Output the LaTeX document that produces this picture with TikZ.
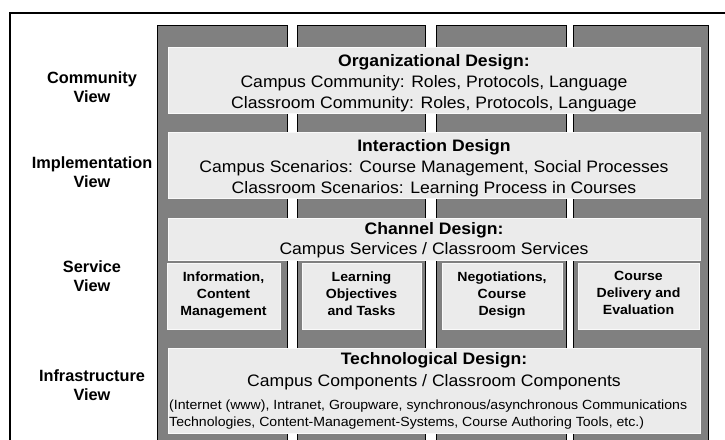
\documentclass[tikz,border=0pt]{standalone}
\usepackage{fontspec}
\setmainfont{Liberation Sans}
\newfontfamily\panelfont[FakeStretch=1.06]{Liberation Sans}
\usetikzlibrary{positioning}

\begin{document}
\begin{tikzpicture}[x=1pt, y=-1pt,
    pillar/.style={draw=black, line width=0.9pt, fill=gray,
                   anchor=north west, inner sep=0pt, minimum height=430pt},
    layer/.style={draw=gray!5, line width=1pt, fill=gray!16,
                  anchor=north west, inner sep=0pt, minimum width=532pt},
    cell/.style={draw=gray!5, line width=1pt, fill=gray!16,
                 anchor=north west, inner sep=0pt, minimum height=66pt},
    head/.style={anchor=north, align=center, inner sep=0pt,
                 font=\panelfont\fontsize{16.6}{21}\selectfont},
    celltxt/.style={anchor=north, align=center, inner sep=0pt,
                    font=\panelfont\bfseries\fontsize{13.3}{17}\selectfont},
    view/.style={align=center, inner sep=0pt,
                 font=\bfseries\fontsize{16.3}{19}\selectfont},
  ]
    \useasboundingbox (0,0) rectangle (725,439);
    \draw[line width=1.3pt] (10,450) -- (10,13) -- (740,13);

    % four pillars behind the layers
    \foreach \xa/\pw [count=\i] in {157/130, 297/128, 436/130, 573/135}
      \node[pillar, minimum width=\pw pt] (P\i) at (\xa,25) {};

    % layers
    \node[layer, minimum height=66pt] (org)   at (168,47)  {};
    \node[layer, minimum height=66pt] (inter) at (168,132) {};
    \node[layer, minimum height=42pt] (chan)  at (168,218) {};
    \node[layer, minimum height=85pt] (tech)  at (168,348) {};

    \node[cell, minimum width=113pt] (S1) at (167,263) {};
    \node[cell, minimum width=119pt] (S2) at (302,263) {};
    \node[cell, minimum width=120pt] (S3) at (442,263) {};
    \node[cell, minimum width=121pt] (S4) at (578,263) {};

    \node[head] (orgtxt) at (434,54.5)
      {\textbf{Organizational Design:}\\
       Campus Community: Roles, Protocols, Language\\
       Classroom Community: Roles, Protocols, Language};
    \node[head] (intertxt) at (434,139.5)
      {\textbf{Interaction Design}\\
       Campus Scenarios: Course Management, Social Processes\\
       Classroom Scenarios: Learning Process in Courses};
    \node[head, font=\panelfont\fontsize{16.6}{20}\selectfont] (chantxt) at (434,222.5)
      {\textbf{Channel Design:}\\
       Campus Services / Classroom Services};
    \node[head, font=\panelfont\fontsize{16.6}{22}\selectfont] (techtxt) at (434,352.5)
      {\textbf{Technological Design:}\\
       Campus Components / Classroom Components};
    \node[anchor=north west, align=left, inner sep=0pt,
          font=\panelfont\fontsize{13.3}{17}\selectfont] (technote) at (169,399.5)
      {(Internet (www), Intranet, Groupware, synchronous/asynchronous Communications\\
       Technologies, Content-Management-Systems, Course Authoring Tools, etc.)};

    \node[celltxt] (S1txt) at (223.5,271.5) {Information,\\Content\\Management};
    \node[celltxt] (S2txt) at (361.5,271.5) {Learning\\Objectives\\and Tasks};
    \node[celltxt] (S3txt) at (502,271.5)   {Negotiations,\\Course\\Design};
    \node[celltxt] (S4txt) at (638.5,271.5) {Course\\Delivery and\\Evaluation};

    % views on the left
    \node[view] (V1) at (92,87)  {Community\\View};
    \node[view] (V2) at (92,172) {Implementation\\View};
    \node[view] (V3) at (92,276) {Service\\View};
    \node[view] (V4) at (92,385) {Infrastructure\\View};
\end{tikzpicture}
\end{document}
